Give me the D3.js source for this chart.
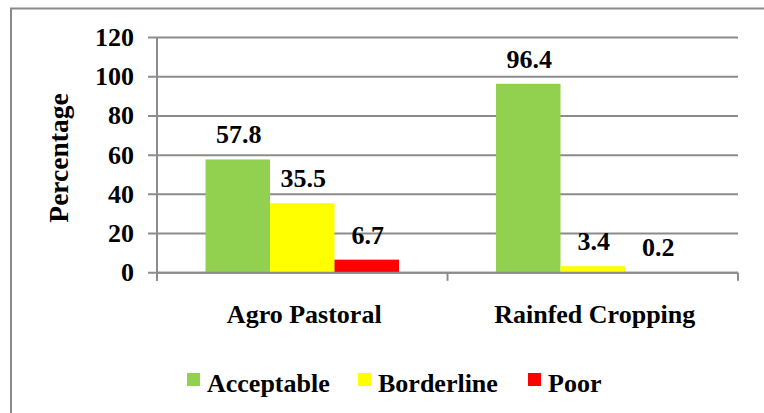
<!DOCTYPE html>
<html>
<head>
<meta charset="utf-8">
<script src="https://cdn.jsdelivr.net/npm/d3@7"></script>
<style>
  html, body { margin: 0; padding: 0; background: #fff; }
  svg { display: block; }
</style>
</head>
<body>
<svg id="chart" width="764" height="413"></svg>
<script>
// Food consumption groups by livelihood zone (percent of households)
const categories = ["Agro Pastoral", "Rainfed Cropping"];
const seriesNames = ["Acceptable", "Borderline", "Poor"];
const acceptable = [57.8, 96.4];
const borderline = [35.5, 3.4];
const poor = [6.7, 0.2];
const yTicks = [0, 20, 40, 60, 80, 100, 120];
const seriesColors = ["#92D050", "#FFFF00", "#FF0000"];

const seriesValues = [acceptable, borderline, poor];
const FONT = "'Liberation Serif', 'Times New Roman', Times, 'DejaVu Serif', serif";
const svg = d3.select("#chart");

function styleText(sel, size) {
  return sel.attr("font-family", FONT)
    .attr("font-weight", "bold")
    .attr("font-size", size)
    .attr("fill", "#000");
}

// outer chart frame
svg.append("rect")
  .attr("x", 11).attr("y", 8.5)
  .attr("width", 780).attr("height", 420)
  .attr("fill", "none").attr("stroke", "#8a8a8a").attr("stroke-width", 2);

const plot = { left: 157, right: 738, top: 37.5, bottom: 272.8 };

const y = d3.scaleLinear().domain([0, 120]).range([plot.bottom, plot.top]);
const x0 = d3.scaleBand().domain(categories).range([plot.left, plot.right]).padding(0);
const x1 = d3.scaleBand().domain(seriesNames).range([0, x0.bandwidth()])
  .paddingInner(0).paddingOuter(0.752);

// gridlines with short ticks left of the axis
svg.append("g").selectAll("line").data(yTicks).join("line")
  .attr("x1", plot.left - 9).attr("x2", plot.right)
  .attr("y1", d => y(d)).attr("y2", d => y(d))
  .attr("stroke", "#8c8c8c").attr("stroke-width", 2);

// y axis labels
styleText(svg.append("g").selectAll("text").data(yTicks).join("text"), 26)
  .attr("x", 134).attr("y", d => y(d))
  .attr("text-anchor", "end").attr("dominant-baseline", "central")
  .text(d => d);

// bars
const groups = svg.append("g").selectAll("g").data(categories).join("g")
  .attr("transform", d => `translate(${x0(d)},0)`);

groups.selectAll("rect")
  .data((c, ci) => seriesNames.map((s, si) => ({ s, v: seriesValues[si][ci], si })))
  .join("rect")
  .attr("x", d => x1(d.s))
  .attr("width", x1.bandwidth())
  .attr("y", d => y(d.v))
  .attr("height", d => y(0) - y(d.v))
  .attr("fill", d => seriesColors[d.si]);

// value labels
styleText(groups.selectAll("text")
  .data((c, ci) => seriesNames.map((s, si) => ({ s, v: seriesValues[si][ci] })))
  .join("text"), 26)
  .attr("x", d => x1(d.s) + x1.bandwidth() / 2 + 1)
  .attr("y", d => y(d.v) - 16)
  .attr("text-anchor", "middle")
  .text(d => d.v);

// axis lines
svg.append("line")
  .attr("x1", plot.left).attr("x2", plot.left)
  .attr("y1", plot.top).attr("y2", plot.bottom + 8)
  .attr("stroke", "#8c8c8c").attr("stroke-width", 2);
svg.append("line")
  .attr("x1", plot.left).attr("x2", plot.right)
  .attr("y1", plot.bottom).attr("y2", plot.bottom)
  .attr("stroke", "#8c8c8c").attr("stroke-width", 2);

// category ticks
const catEdges = categories.map(c => x0(c)).concat([plot.right]);
svg.append("g").selectAll("line").data(catEdges).join("line")
  .attr("x1", d => d).attr("x2", d => d)
  .attr("y1", plot.bottom).attr("y2", plot.bottom + 8)
  .attr("stroke", "#8c8c8c").attr("stroke-width", 2);

// category labels
styleText(svg.append("g").selectAll("text").data(categories).join("text"), 26)
  .attr("x", d => x0(d) + x0.bandwidth() / 2 + 2)
  .attr("y", 323)
  .attr("text-anchor", "middle")
  .text(d => d);

// y axis title
styleText(svg.append("text"), 27.5)
  .attr("transform", "translate(68,158) rotate(-90)")
  .attr("text-anchor", "middle")
  .text("Percentage");

// legend
const legendX = [187, 358, 528];
const legend = svg.append("g").selectAll("g").data(seriesNames).join("g")
  .attr("transform", (d, i) => `translate(${legendX[i]},0)`);
legend.append("rect")
  .attr("x", 0).attr("y", 373).attr("width", 13).attr("height", 13)
  .attr("fill", (d, i) => seriesColors[i]);
styleText(legend.append("text"), 26)
  .attr("x", 20).attr("y", 392)
  .text(d => d);
</script>
</body>
</html>
